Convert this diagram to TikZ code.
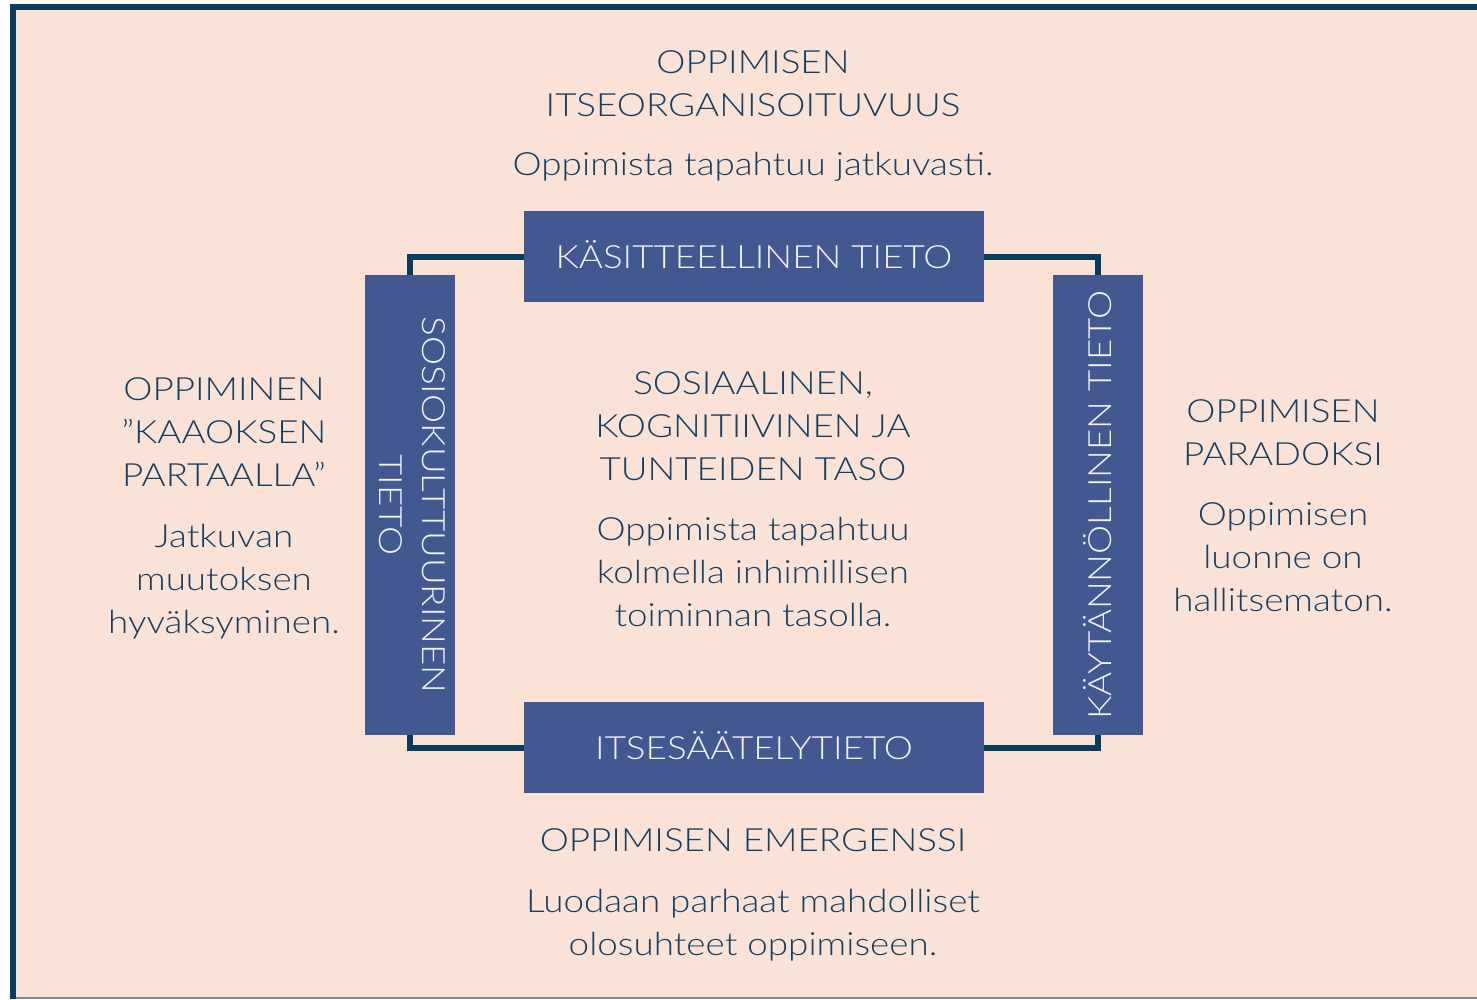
\documentclass[tikz,border=0pt]{standalone}
\usepackage{fontspec}
\usepackage{graphicx}
\setmainfont{Lato Light}[FakeStretch=1.15]
\definecolor{bgpeach}{HTML}{FBE2D6}
\definecolor{frame}{HTML}{0B3C5D}
\definecolor{boxblue}{HTML}{435891}
\definecolor{txt}{HTML}{143F60}
\definecolor{boxtxt}{HTML}{F2F2F6}
\definecolor{edge}{HTML}{7A8C98}
\tikzset{
  lbl/.style={font=\fontsize{32}{43}\selectfont, text=txt, align=center, anchor=base, inner sep=0pt},
  hbox/.style={fill=boxblue, minimum width=460pt, minimum height=91pt, inner sep=0pt,
    text=boxtxt, font=\fontsize{32}{43}\selectfont, text height=23pt, text depth=0pt},
  vbox/.style={fill=boxblue, minimum width=90pt, minimum height=460pt, inner sep=0pt,
    text=boxtxt, font=\fontsize{32}{43}\selectfont},
  link/.style={draw=frame, line width=6pt}
}
\begin{document}
\begin{tikzpicture}[x=1pt,y=-1pt]
\useasboundingbox (0,0) rectangle (1477,999);
% background and frame
\fill[bgpeach] (10,4) rectangle (1477,999);
\draw[edge, line width=2pt] (10,998) -- (1477,998);
\draw[frame, line width=6pt] (13,999) -- (13,7) -- (1477,7);
% boxes
\node[hbox] (kt) at (754,256.5) {KÄSITTEELLINEN TIETO};
\node[hbox] (is) at (754,747.5) {ITSESÄÄTELYTIETO};
\node[vbox] (sk) at (410,505) {\rotatebox{-90}{\begin{tabular}{@{}c@{}}SOSIOKULTTUURINEN\\TIETO\end{tabular}}};
\node[vbox] (kk) at (1098,505) {\rotatebox{90}{KÄYTÄNNÖLLINEN TIETO}};
% connectors
\draw[link] (kt.west) -| (sk.north);
\draw[link] (kt.east) -| (kk.north);
\draw[link] (is.west) -| (sk.south);
\draw[link] (is.east) -| (kk.south);
% texts (anchor = baseline of the last line)
\node[lbl] (th) at (753,116.5) {OPPIMISEN\\ITSEORGANISOITUVUUS};
\node[lbl] (tb) at (753,175) {Oppimista tapahtuu jatkuvasti.};
\node[lbl] (ch) at (753,480) {SOSIAALINEN,\\KOGNITIIVINEN JA\\TUNTEIDEN TASO};
\node[lbl] (cb) at (753,626.5) {Oppimista tapahtuu\\kolmella inhimillisen\\toiminnan tasolla.};
\node[lbl] (lh) at (224,486.5) {OPPIMINEN\\”KAAOKSEN\\PARTAALLA”};
\node[lbl] (lb) at (224,633) {Jatkuvan\\muutoksen\\hyväksyminen.};
\node[lbl] (rh) at (1283,465) {OPPIMISEN\\PARADOKSI};
\node[lbl] (rb) at (1283,611.5) {Oppimisen\\luonne on\\hallitsematon.};
\node[lbl] (bh) at (753,851.5) {OPPIMISEN EMERGENSSI};
\node[lbl] (bb) at (753,955) {Luodaan parhaat mahdolliset\\olosuhteet oppimiseen.};
\end{tikzpicture}
\end{document}
